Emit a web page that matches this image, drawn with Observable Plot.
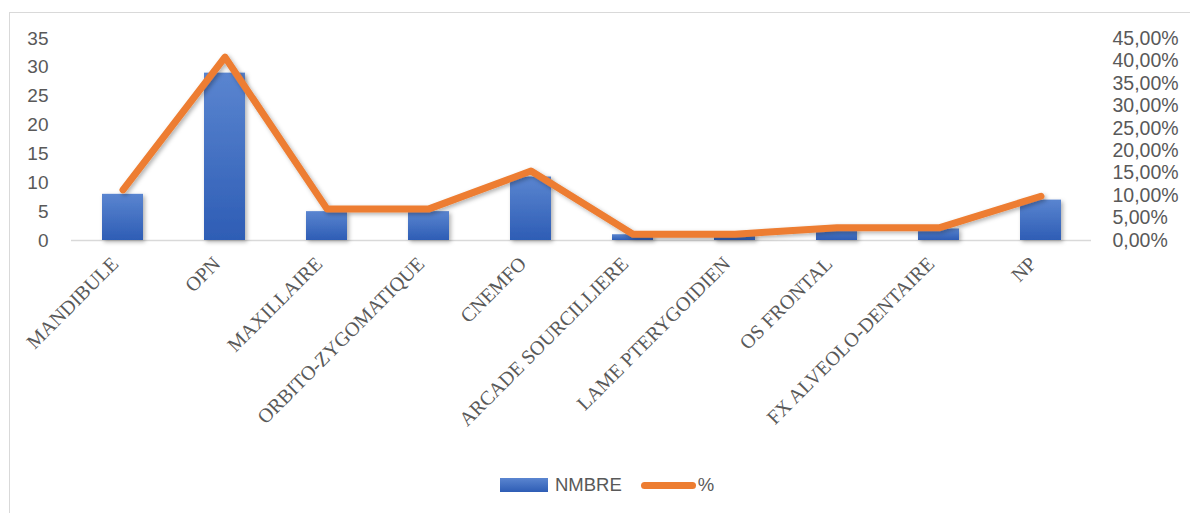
<!DOCTYPE html>
<html>
<head>
<meta charset="utf-8">
<script src="https://cdn.jsdelivr.net/npm/d3@7"></script>
<script src="https://cdn.jsdelivr.net/npm/@observablehq/plot@0.6"></script>
<style>
  html, body { margin: 0; padding: 0; background: #fff; }
  body { width: 1190px; height: 513px; overflow: hidden; position: relative; font-family: "Liberation Sans", Arial, sans-serif; }
  #frame { position: absolute; left: 9px; top: 12px; right: -2px; bottom: -2px; border-top: 1.5px solid #d9d9d9; border-left: 1.5px solid #d9d9d9; }
  #chart { position: absolute; left: 0; top: 0; }
  #legend { position: absolute; left: 500px; top: 474px; display: flex; align-items: center; color: #595959; font-size: 18.5px; }
  .sw-bar { width: 48px; height: 14px; background: linear-gradient(#5a85d0, #2e5db5); margin-right: 7px; }
  .sw-line { width: 55px; height: 7px; border-radius: 4px; background: #ED7D31; margin-left: 19px; margin-right: 2px; }
</style>
</head>
<body>
<div id="frame"></div>
<div id="chart"></div>
<div id="legend">
  <div class="sw-bar"></div><span>NMBRE</span>
  <div class="sw-line"></div><span>%</span>
</div>
<script>
// Data
const categories = ["MANDIBULE", "OPN", "MAXILLAIRE", "ORBITO-ZYGOMATIQUE", "CNEMFO",
  "ARCADE SOURCILLIERE", "LAME PTERYGOIDIEN", "OS FRONTAL", "FX ALVEOLO-DENTAIRE", "NP"];
const counts = [8, 29, 5, 5, 11, 1, 1, 2, 2, 7];
const percents = [11.27, 40.85, 7.04, 7.04, 15.49, 1.41, 1.41, 2.82, 2.82, 9.86];
const leftTicks = [0, 5, 10, 15, 20, 25, 30, 35];
const rightTicks = [0, 5, 10, 15, 20, 25, 30, 35, 40, 45];

const leftMax = 35, rightMax = 45;
const k = leftMax / rightMax; // percent -> left-axis units

const table = categories.map((c, i) => ({cat: c, n: counts[i], p: percents[i] * k}));

const chart = Plot.plot({
  width: 1190,
  height: 460,
  marginLeft: 71,
  marginRight: 99,
  marginTop: 38,
  marginBottom: 220,
  style: {color: "#595959", background: "transparent", fontFamily: "Liberation Sans, Arial, sans-serif"},
  x: {domain: categories, paddingInner: 0.6, paddingOuter: 0.3, label: null, axis: null},
  y: {domain: [0, leftMax], label: null, axis: null},
  marks: [
    Plot.ruleY([0], {stroke: "#d9d9d9", strokeWidth: 1.5}),
    Plot.barY(table, {x: "cat", y: "n", fill: "url(#barGrad)"}),
    Plot.lineY(table, {x: "cat", y: "p", stroke: "#ED7D31", strokeWidth: 7, strokeLinejoin: "round", strokeLinecap: "round"}),
    Plot.axisY(leftTicks, {anchor: "left", tickSize: 0, tickPadding: 23, fontSize: 19, label: null}),
    Plot.axisY(rightTicks.map(t => t * k), {anchor: "right", tickSize: 0, tickPadding: 21, fontSize: 19.5, label: null,
      tickFormat: d => (Math.round(d / k)).toFixed(2).replace(".", ",") + "%"}),
    Plot.axisX({anchor: "bottom", tickRotate: -45, tickSize: 0, tickPadding: 20, dx: -8, fontSize: 20,
      fontFamily: "Liberation Serif, Times New Roman, serif", label: null})
  ]
});

const svg = chart.tagName.toLowerCase() === "svg" ? chart : chart.querySelector("svg");
const ns = "http://www.w3.org/2000/svg";
const defs = document.createElementNS(ns, "defs");
defs.innerHTML = `
  <linearGradient id="barGrad" x1="0" y1="0" x2="0" y2="1">
    <stop offset="0" stop-color="#5a85d0"/>
    <stop offset="1" stop-color="#2e5db5"/>
  </linearGradient>
  <filter id="shadow" x="-20%" y="-20%" width="140%" height="140%">
    <feDropShadow dx="2" dy="2" stdDeviation="2" flood-color="#000" flood-opacity="0.3"/>
  </filter>`;
svg.insertBefore(defs, svg.firstChild);
svg.querySelectorAll('g[aria-label="bar"], g[aria-label="line"]').forEach(g => g.setAttribute("filter", "url(#shadow)"));

document.getElementById("chart").appendChild(chart);
</script>
</body>
</html>
